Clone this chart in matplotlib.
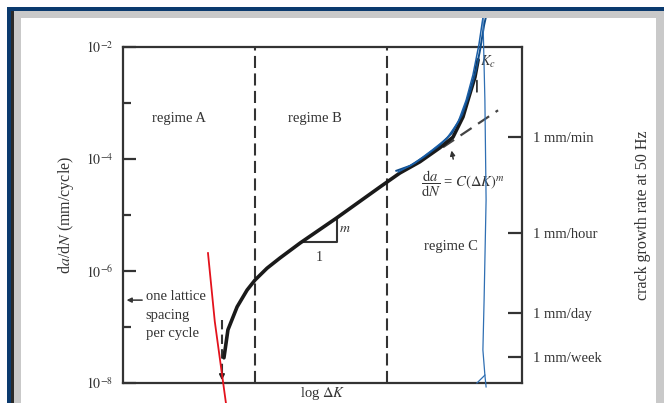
import matplotlib
matplotlib.use("Agg")
import matplotlib.pyplot as plt
from matplotlib.patches import Rectangle
from matplotlib.ticker import FixedLocator, NullFormatter
import numpy as np

plt.rcParams['font.family'] = ['Liberation Serif', 'DejaVu Serif']
plt.rcParams['mathtext.fontset'] = 'stix'

# ---------------- data ----------------
# x: log dK in arbitrary units (0..10 across the box); y: log10(da/dN)
curve_x = [2.53, 2.63, 2.86, 3.11, 3.31, 3.61, 3.93, 4.44, 5.36, 6.44, 6.94, 7.44, 7.94, 8.27, 8.52, 8.70, 8.82, 8.90]
curve_logy = [-7.55, -7.05, -6.64, -6.34, -6.16, -5.95, -5.77, -5.50, -5.05, -4.50, -4.25, -4.05, -3.80, -3.61, -3.25, -2.82, -2.54, -2.23]

paris_x = [8.02, 9.40]
paris_logy = [-3.79, -3.13]

regime_bounds = [3.31, 6.62]
threshold_x = 2.48
threshold_top_logy = -6.875

left_tick_exps = [-2, -4, -6, -8]
left_tick_labels = [r'$10^{-2}$', r'$10^{-4}$', r'$10^{-6}$', r'$10^{-8}$']
left_minor_exps = [-3, -5, -7]

right_tick_logy = [-3.61, -5.32, -6.75, -7.54]
right_tick_labels = ['1 mm/min', '1 mm/hour', '1 mm/day', '1 mm/week']

tri_x = [4.49, 5.36, 5.36]
tri_logy = [-5.48, -5.48, -5.05]

lattice_logy = -6.52

# hand-drawn annotations (pen marks on the scan)
blue_vert_x = [9.02, 9.07, 9.10, 9.05, 9.02, 9.07, 8.87]
blue_vert_logy = [-1.43, -2.95, -4.73, -6.52, -7.41, -7.86, -8.0]
blue_tail_x = [9.07, 9.10]
blue_tail_logy = [-7.86, -8.07]
blue1_x = [6.85, 7.20, 7.57, 7.94, 8.24, 8.50, 8.70, 8.85, 8.95, 9.05, 9.10]
blue1_logy = [-4.21, -4.12, -3.95, -3.75, -3.54, -3.21, -2.80, -2.41, -2.05, -1.61, -1.45]
blue2_x = [6.90, 7.32, 7.75, 8.12, 8.40, 8.60, 8.77, 8.92, 9.02]
blue2_logy = [-4.23, -4.07, -3.84, -3.63, -3.34, -2.95, -2.50, -1.96, -1.48]
red_x = [2.13, 2.30, 2.58]
red_logy = [-5.68, -6.90, -8.36]

# ---------------- figure ----------------
W, H = 664, 403
fig = plt.figure(figsize=(W / 100, H / 100), dpi=100)

def fr(x0, y0, x1, y1, color):
    fig.patches.append(Rectangle((x0 / W, 1 - y1 / H), (x1 - x0) / W, (y1 - y0) / H,
                                 transform=fig.transFigure, color=color, zorder=0, lw=0))

# scan frame
fr(7, 7, 664, 11, '#0b3a6e')
fr(7, 7, 11, 403, '#0b3a6e')
fr(11, 11, 664, 18, '#c9c9c9')
fr(11, 11, 14, 403, '#2a2a2a')
fr(14, 11, 21, 403, '#c9c9c9')
fr(656, 11, 664, 403, '#c9c9c9')

ax = fig.add_axes([123 / W, 1 - 383 / H, 399 / W, 336 / H])
ax.set_facecolor('none')
ax.set_xlim(0, 10)
ax.set_yscale('log')
ax.set_ylim(1e-8, 1e-2)
for s in ax.spines.values():
    s.set_linewidth(1.6)
    s.set_color('#333333')

ax.set_xticks([])
ax.yaxis.set_major_locator(FixedLocator([10.0 ** e for e in left_tick_exps]))
ax.set_yticklabels(left_tick_labels)
ax.yaxis.set_minor_locator(FixedLocator([10.0 ** e for e in left_minor_exps]))
ax.yaxis.set_minor_formatter(NullFormatter())
ax.tick_params(axis='y', which='major', direction='in', length=9.5, width=1.6,
               color='#333333', labelsize=10, labelcolor='#333333', pad=7)
ax.tick_params(axis='y', which='minor', direction='in', length=5.5, width=1.6, color='#333333')

ax2 = ax.twinx()
ax2.set_yscale('log')
ax2.set_ylim(1e-8, 1e-2)
ax2.yaxis.set_major_locator(FixedLocator([10.0 ** v for v in right_tick_logy]))
ax2.set_yticklabels(right_tick_labels)
ax2.yaxis.set_minor_locator(FixedLocator([]))
ax2.tick_params(axis='y', which='major', direction='in', length=10, width=1.6,
                color='#333333', labelsize=10.5, labelcolor='#333333', pad=8)
for s in ax2.spines.values():
    s.set_visible(False)

ax.set_ylabel(r'd$a$/d$N$ (mm/cycle)', fontsize=11.5, color='#333333', labelpad=7)
ax2.set_ylabel('crack growth rate at 50 Hz', fontsize=11.5, color='#333333', labelpad=24, rotation=90)
ax.set_xlabel(r'log $\Delta K$', fontsize=10.5, color='#333333', labelpad=1.5)

# main curve
ax.plot(curve_x, [10.0 ** v for v in curve_logy], color='#1a1a1a', lw=2.6,
        solid_capstyle='round', zorder=5)
ax.plot(paris_x, [10.0 ** v for v in paris_logy], color='#444444', lw=1.6,
        dashes=[6, 3.5], zorder=4)

for bx in regime_bounds:
    ax.axvline(bx, color='#333333', lw=1.5, dashes=[5.8, 2.6], zorder=3)
ax.plot([threshold_x, threshold_x], [10.0 ** threshold_top_logy, 10.0 ** -7.9],
        color='#333333', lw=1.5, dashes=[4.5, 2.5], zorder=3)
ax.annotate('', xy=(threshold_x, 10.0 ** -8.0), xytext=(threshold_x, 10.0 ** -7.8),
            arrowprops=dict(arrowstyle='-|>', color='#222222', lw=1.2, mutation_scale=8))

# Paris slope triangle
ax.plot(tri_x, [10.0 ** v for v in tri_logy], color='#333333', lw=1.5)
ax.text(5.55, 10.0 ** -5.25, r'$m$', fontsize=10, color='#333333', ha='center', va='center')
ax.text(4.92, 10.0 ** -5.76, '1', fontsize=10, color='#333333', ha='center', va='center')

# regime labels
ax.text(1.40, 10.0 ** -3.27, 'regime A', fontsize=10.5, color='#333333', ha='center', va='center')
ax.text(4.82, 10.0 ** -3.27, 'regime B', fontsize=10.5, color='#333333', ha='center', va='center')
ax.text(8.22, 10.0 ** -5.57, 'regime C', fontsize=10.5, color='#333333', ha='center', va='center')

# lattice spacing note
ax.annotate('', xy=(0.02, 10.0 ** lattice_logy), xytext=(0.55, 10.0 ** lattice_logy),
            arrowprops=dict(arrowstyle='-|>', color='#333333', lw=1.1, mutation_scale=7))
ax.text(0.57, 10.0 ** (lattice_logy + 0.18), 'one lattice\nspacing\nper cycle', fontsize=10.5,
        color='#333333', ha='left', va='top', linespacing=1.55)

# formula + arrow
ax.text(7.47, 10.0 ** -4.45, r'$\dfrac{\mathrm{d}a}{\mathrm{d}N}$ = $C(\Delta K)^m$', fontsize=10.5,
        color='#333333', ha='left', va='center')
ax.annotate('', xy=(8.22, 10.0 ** -3.80), xytext=(8.29, 10.0 ** -4.05),
            arrowprops=dict(arrowstyle='-|>', color='#333333', lw=1.1, mutation_scale=7))

# K_c
ax.text(9.15, 10.0 ** -2.27, r'$K_c$', fontsize=10.5, color='#333333', ha='center', va='center')
ax.annotate('', xy=(8.87, 10.0 ** -2.55), xytext=(8.87, 10.0 ** -2.85),
            arrowprops=dict(arrowstyle='-', color='#333333', lw=1.3))

# pen marks
ax.plot(blue1_x, [10.0 ** v for v in blue1_logy], color='#0f4c8a', lw=1.4, clip_on=False, zorder=7)
ax.plot(blue2_x, [10.0 ** v for v in blue2_logy], color='#1a5fa8', lw=1.1, clip_on=False, zorder=7)
ax.plot(blue_vert_x, [10.0 ** v for v in blue_vert_logy], color='#2f6fb3', lw=0.9, clip_on=False, zorder=7)
ax.plot(blue_tail_x, [10.0 ** v for v in blue_tail_logy], color='#2f6fb3', lw=0.9, clip_on=False, zorder=7)
ax.plot(red_x, [10.0 ** v for v in red_logy], color='#e3121c', lw=1.3, clip_on=False, zorder=7)

fig.savefig('out.png', dpi=100)
